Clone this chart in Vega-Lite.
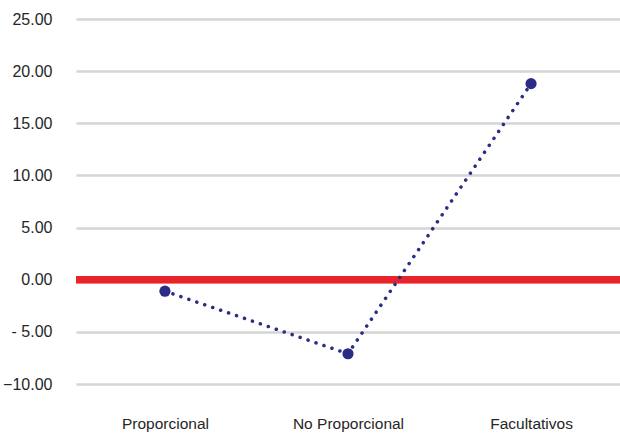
{
  "$schema": "https://vega.github.io/schema/vega-lite/v6.json",
  "autosize": "none",
  "width": 544,
  "height": 365,
  "padding": {"left": 76, "top": 19, "right": 0, "bottom": 50},
  "background": "white",
  "config": {"view": {"stroke": null}, "font": "Liberation Sans"},
  "data": {"values": [
    {"category": "Proporcional", "value": -1.1},
    {"category": "No Proporcional", "value": -7.1},
    {"category": "Facultativos", "value": 18.8}
  ]},
  "encoding": {
    "x": {"field": "category", "type": "nominal", "sort": null,
      "scale": {"type": "point", "padding": 0.486},
      "axis": {"title": null, "labelAngle": 0, "domain": false, "ticks": false, "grid": false,
        "labelPadding": 32, "labelFontSize": 15.5, "labelColor": "#262626", "labelFont": "Liberation Sans"}},
    "y": {"field": "value", "type": "quantitative",
      "scale": {"domain": [-10, 25], "nice": false, "zero": false},
      "axis": {"title": null, "values": [-10, -5, 0, 5, 10, 15, 20, 25], "domain": false, "ticks": false,
        "labelPadding": 24, "labelFontSize": 16, "labelColor": "#262626", "labelFont": "Liberation Sans",
        "labelExpr": "datum.value < 0 && datum.value > -10 ? '- ' + format(abs(datum.value), '.2f') : format(datum.value, '.2f')",
        "gridColor": "#d4d4d4", "gridWidth": 2.5, "gridOpacity": 1}}
  },
  "layer": [
    {"mark": {"type": "rule", "color": "#e8232a", "strokeWidth": 7},
     "encoding": {"x": null, "y": {"datum": 0, "type": "quantitative"}}},
    {"mark": {"type": "line", "color": "#2b2d85", "strokeWidth": 3.5, "strokeDash": [0.1, 8.3], "strokeCap": "round"}},
    {"mark": {"type": "circle", "color": "#2b2d85", "size": 125, "opacity": 1}}
  ]
}
